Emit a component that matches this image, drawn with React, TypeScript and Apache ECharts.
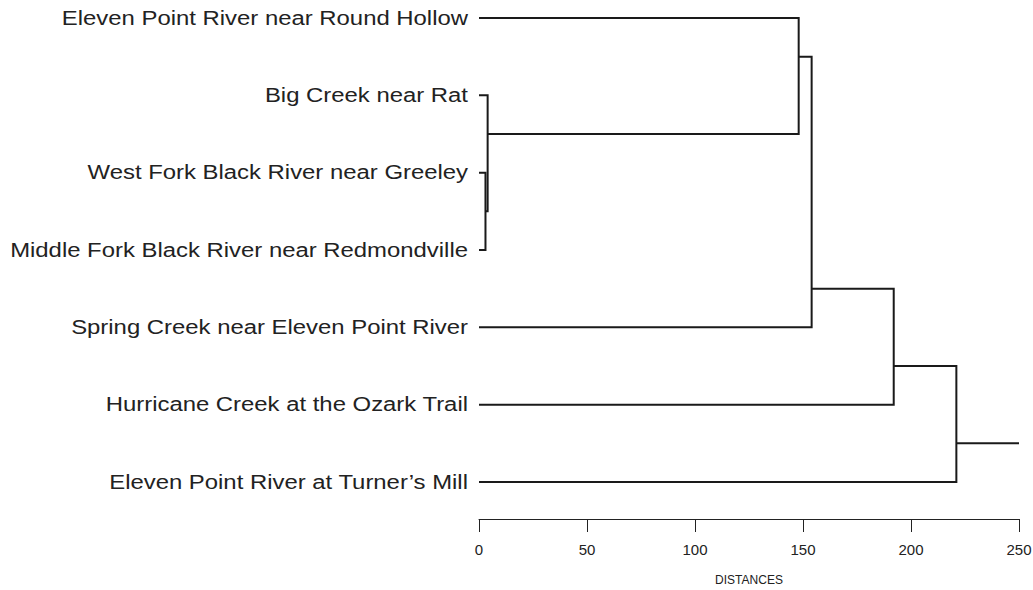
import React, { useEffect, useRef } from "react";
import * as echarts from "echarts";

// Leaves (top to bottom)
const leafNames = [
  "Eleven Point River near Round Hollow",
  "Big Creek near Rat",
  "West Fork Black River near Greeley",
  "Middle Fork Black River near Redmondville",
  "Spring Creek near Eleven Point River",
  "Hurricane Creek at the Ozark Trail",
  "Eleven Point River at Turner\u2019s Mill",
];
const leafPositions = [0, 1, 2, 3, 4, 5, 6];

// Merges: node ids 7..12 (leaves 0..6)
const mergeChildA = [2, 1, 0, 9, 10, 11];
const mergeChildB = [3, 7, 8, 4, 5, 6];
const mergeDistances = [3, 4, 148, 154, 192, 221];
const mergeOutPositions = [2.5, 1.5, 0.5, 3.5, 4.5, 5.5];
const rootTailEnd = 250;

const xTicks = [0, 50, 100, 150, 200, 250];

const FONT = "Liberation Sans, Arial, Helvetica, sans-serif";

export default function App() {
  const ref = useRef<HTMLDivElement>(null);
  useEffect(() => {
    if (!ref.current) return;
    const chart = echarts.init(ref.current, undefined, { renderer: "svg" });

    const nodeDist: number[] = leafPositions.map(() => 0);
    const nodePos: number[] = [...leafPositions];
    mergeDistances.forEach((d, i) => {
      nodeDist.push(d);
      nodePos.push(mergeOutPositions[i]);
    });

    const segs: number[][] = mergeDistances.map((d, i) => {
      const a = mergeChildA[i];
      const b = mergeChildB[i];
      return [nodeDist[a], nodePos[a], d, nodePos[b], nodeDist[b]];
    });
    const lastIdx = mergeDistances.length - 1;
    const tail = [
      mergeDistances[lastIdx],
      mergeOutPositions[lastIdx],
      rootTailEnd,
    ];
    const labelData = leafPositions.map((p, i) => [0, p, i]);

    const lineColor = "#1a1a1a";

    chart.setOption({
      animation: false,
      backgroundColor: "#ffffff",
      grid: {
        left: 479,
        right: 14,
        top: 18,
        bottom: 108,
        containLabel: false,
        outerBoundsMode: "none",
      },
      xAxis: {
        type: "value",
        min: xTicks[0],
        max: xTicks[xTicks.length - 1],
        interval: 50,
        position: "bottom",
        offset: 37,
        name: "DISTANCES",
        nameLocation: "middle",
        nameGap: 55,
        nameTextStyle: { fontFamily: FONT, fontSize: 12, color: "#222" },
        axisLine: {
          show: true,
          onZero: false,
          lineStyle: { color: "#222", width: 1 },
        },
        axisTick: { show: true, length: 13, lineStyle: { color: "#222", width: 1 } },
        axisLabel: { margin: 23, fontFamily: FONT, fontSize: 15, color: "#222" },
        splitLine: { show: false },
      },
      yAxis: {
        type: "value",
        inverse: true,
        min: 0,
        max: 6,
        interval: 1,
        axisLine: { show: false },
        axisTick: { show: false },
        splitLine: { show: false },
        axisLabel: { show: false },
      },
      series: [
        {
          type: "custom",
          coordinateSystem: "cartesian2d",
          clip: false,
          encode: { x: [0, 2, 4], y: [1, 3] },
          data: segs,
          renderItem: (params: any, api: any) => {
            const p1 = api.coord([api.value(0), api.value(1)]);
            const p2 = api.coord([api.value(2), api.value(1)]);
            const p3 = api.coord([api.value(2), api.value(3)]);
            const p4 = api.coord([api.value(4), api.value(3)]);
            return {
              type: "polyline",
              shape: { points: [p1, p2, p3, p4] },
              style: { stroke: lineColor, lineWidth: 2, fill: null, lineJoin: "miter" },
            };
          },
        },
        {
          type: "custom",
          coordinateSystem: "cartesian2d",
          clip: false,
          encode: { x: [0, 2], y: [1] },
          data: [tail],
          renderItem: (params: any, api: any) => {
            const p1 = api.coord([api.value(0), api.value(1)]);
            const p2 = api.coord([api.value(2), api.value(1)]);
            return {
              type: "line",
              shape: { x1: p1[0], y1: p1[1], x2: p2[0], y2: p2[1] },
              style: { stroke: lineColor, lineWidth: 2 },
            };
          },
        },
        {
          type: "custom",
          coordinateSystem: "cartesian2d",
          clip: false,
          encode: { x: [0], y: [1] },
          data: labelData,
          renderItem: (params: any, api: any) => {
            const p = api.coord([api.value(0), api.value(1)]);
            const idx = api.value(2);
            return {
              type: "text",
              x: p[0] - 11,
              y: p[1],
              scaleX: 1.225,
              style: {
                x: 0,
                y: 0,
                text: leafNames[idx],
                align: "right",
                verticalAlign: "middle",
                fontFamily: FONT,
                fontSize: 19.5,
                fill: "#222",
              },
            };
          },
        },
      ],
    });
    return () => chart.dispose();
  }, []);
  return (
    <div
      ref={ref}
      style={{ position: "fixed", left: 0, top: 0, width: 1033, height: 590 }}
    />
  );
}
